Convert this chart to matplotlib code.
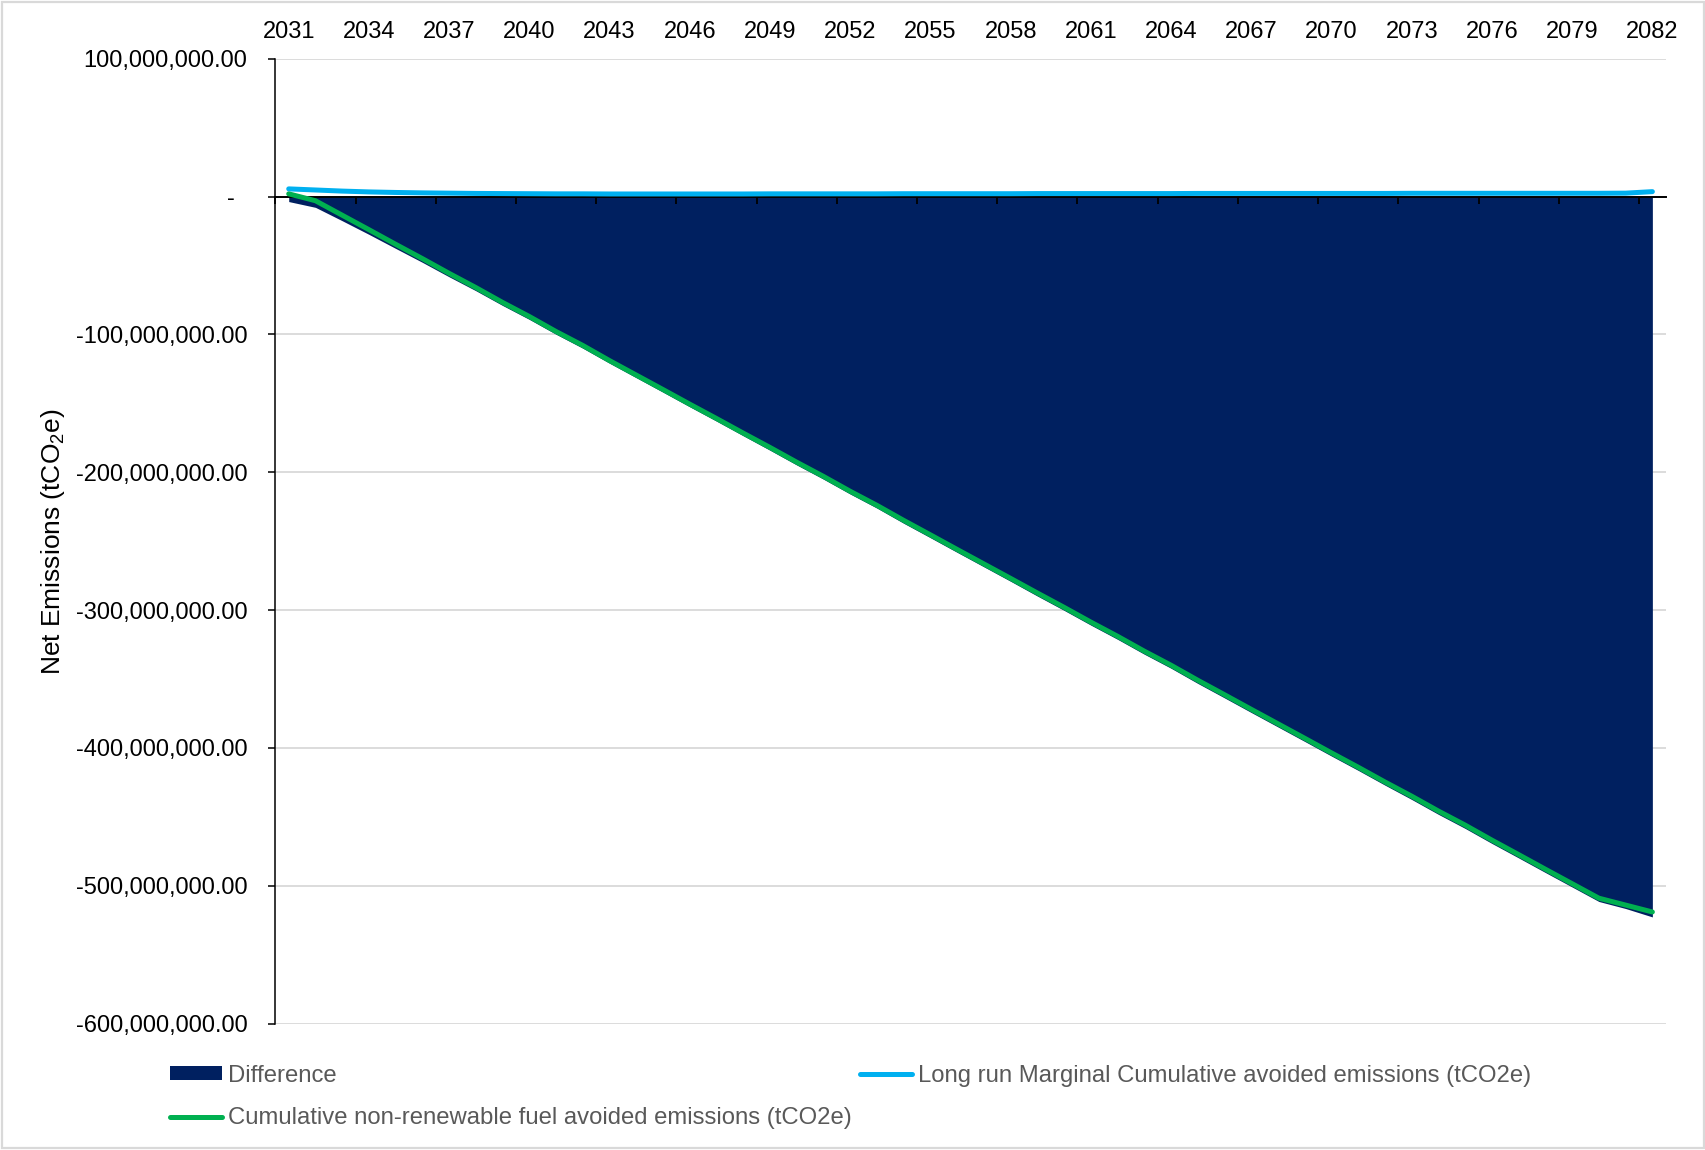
import numpy as np
import matplotlib
matplotlib.use("Agg")
import matplotlib.pyplot as plt
from matplotlib.patches import Rectangle
from matplotlib.ticker import FuncFormatter, MultipleLocator

plt.rcParams["font.family"] = ["Liberation Sans", "DejaVu Sans"]
plt.rcParams["mathtext.fontset"] = "custom"
plt.rcParams["mathtext.rm"] = "Liberation Sans"

# categories
YEARS = list(range(2031, 2083))

# Long run Marginal Cumulative avoided emissions, million tCO2e
LRM_CUM = [5.6, 4.8, 4.0, 3.4, 3.0, 2.7, 2.5, 2.3, 2.2, 2.1,
           2.0, 2.0, 1.9, 1.9, 1.9, 1.9, 1.9, 1.9, 2.0, 2.0,
           2.0, 2.0, 2.0, 2.1, 2.1, 2.1, 2.1, 2.1, 2.2, 2.2,
           2.2, 2.2, 2.2, 2.2, 2.3, 2.3, 2.3, 2.3, 2.3, 2.3,
           2.3, 2.3, 2.4, 2.4, 2.4, 2.4, 2.4, 2.4, 2.4, 2.4,
           2.5, 3.6]

# Cumulative non-renewable fuel avoided emissions, million tCO2e
NRF_CUM = [2.0, -3.0, -13.5, -24.0, -34.6, -45.0, -55.7, -66.0, -76.8, -87.0,
           -97.9, -108.0, -119.0, -129.5, -140.0, -150.6, -161.0, -171.6, -182.0, -192.7,
           -203.0, -213.8, -224.0, -234.9, -245.4, -256.0, -266.5, -277.0, -287.6, -298.0,
           -308.7, -319.0, -329.8, -340.0, -350.9, -361.4, -372.0, -382.5, -393.0, -403.6,
           -414.0, -424.7, -435.0, -445.8, -456.0, -466.9, -477.4, -488.0, -498.5, -509.0,
           -514.0, -519.0]

lrm = np.array(LRM_CUM) * 1e6
nrf = np.array(NRF_CUM) * 1e6
diff = nrf - lrm

NAVY = "#002060"
BLUE = "#00B0F0"
GREEN = "#00B050"
GRID = "#d9d9d9"
FS = 17

fig = plt.figure(figsize=(17.06, 11.5), dpi=100)
ax = fig.add_axes([0.1614, 0.1099, 0.8150, 0.8390])

x = np.arange(len(YEARS))
area = ax.fill_between(x, diff, 0, color=NAVY, lw=0, zorder=1, label="Difference")
(l_blue,) = ax.plot(x, lrm, color=BLUE, lw=3.6, solid_capstyle="round", zorder=3,
                    label="Long run Marginal Cumulative avoided emissions (tCO2e)")
(l_green,) = ax.plot(x, nrf, color=GREEN, lw=3.6, solid_capstyle="round", zorder=3,
                     label="Cumulative non-renewable fuel avoided emissions (tCO2e)")

ax.set_xlim(-0.5, len(YEARS) - 0.5)
ax.set_ylim(-600e6, 100e6)

# y axis
ax.yaxis.set_major_locator(MultipleLocator(100e6))
ax.yaxis.set_major_formatter(FuncFormatter(lambda v, p: "-  " if abs(v) < 1 else f"{v:,.2f}"))
ax.grid(axis="y", color=GRID, lw=1.3)
ax.yaxis.set_zorder(0.5)
ax.tick_params(axis="y", direction="out", length=5, width=1.1, labelsize=FS, pad=15)
ax.set_ylabel(r"Net Emissions (tCO$_{2}$e)", fontsize=19, labelpad=6)

# x axis: year labels on top, tick marks on the zero line
ax.set_xticks(x[::3])
ax.set_xticklabels([str(y) for y in YEARS[::3]])
ax.set_xticks(np.arange(-0.5, len(YEARS) - 1, 3), minor=True)
ax.tick_params(axis="x", which="major", bottom=False, top=False, length=0,
               labelbottom=False, labeltop=True, labelsize=FS, pad=11.5)
ax.tick_params(axis="x", which="minor", bottom=True, top=False, direction="out",
               length=5, width=1.3, color="black")

ax.spines["bottom"].set_position(("data", 0))
ax.spines["bottom"].set_linewidth(1.4)
ax.spines["left"].set_linewidth(1.1)
ax.spines["top"].set_visible(False)
ax.spines["right"].set_visible(False)

fig.legend(handles=[area, l_green, l_blue], ncol=2, loc="upper left",
           bbox_to_anchor=(0.0996, 0.0743), borderaxespad=0, borderpad=0,
           frameon=False, fontsize=17.2, labelcolor="#595959",
           handlelength=2.2, handleheight=0.55, handletextpad=0.23,
           columnspacing=0.33, labelspacing=0.87)

fig.add_artist(Rectangle((0.001, 0.0015), 0.998, 0.997, transform=fig.transFigure,
                         fill=False, ec=GRID, lw=1.6))

fig.savefig("out.png", dpi=100)
